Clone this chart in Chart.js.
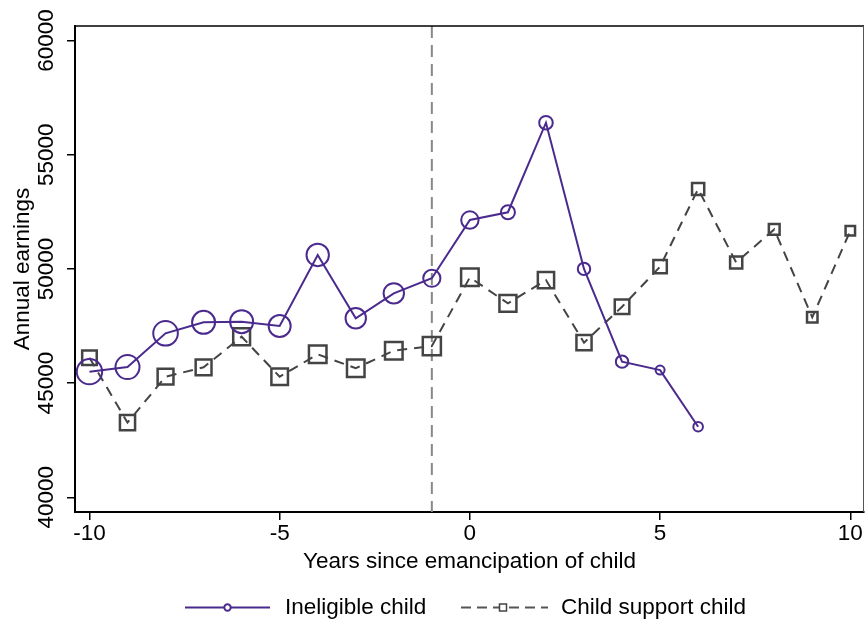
<!DOCTYPE html>
<html>
<head>
<meta charset="utf-8">
<script src="https://cdn.jsdelivr.net/npm/chart.js@4"></script>
<style>
  html, body { margin: 0; padding: 0; background: #fff; }
</style>
</head>
<body>
<canvas id="myChart" width="865" height="619"></canvas>
<script>
/* datos */
const years = [-10, -9, -8, -7, -6, -5, -4, -3, -2, -1, 0, 1, 2, 3, 4, 5, 6, 7, 8, 9, 10];
const ineligible = [45500, 45700, 47180, 47660, 47690, 47500, 50610, 47840, 48930, 49590,
  52140, 52480, 56400, 50000, 45940, 45570, 43090];
const childSupport = [46110, 43270, 45280, 45690, 47030, 45280, 46260, 45650, 46420, 46620,
  49630, 48490, 49510, 46770, 48340, 50100, 53500, 50280, 51730, 47880, 51670];
const xTicks = [-10, -5, 0, 5, 10];
const yTicks = [40000, 45000, 50000, 55000, 60000];
const eventYear = -1;

/* tamanos de los marcadores (peso de cada punto) */
const circleRadius = [12.7, 12, 12.3, 11.5, 11.5, 11, 11.2, 10.2, 10.2, 8.6, 8.7, 7, 6.8, 6.2, 6.2, 4.5, 4.8];
const squareRadius = [10.3, 10.7, 11.2, 11.2, 11.9, 11.7, 12.4, 12.4, 12.4, 12.8, 12.4, 12, 11.5,
  10.7, 10.3, 9.5, 8.6, 8.6, 7.6, 7.4, 6.7];

const PURPLE = "#4b2a8e";
const GRAY = "#444444";
const FONT = { family: "'Liberation Sans', Arial, sans-serif", size: 22.5 };

const toPoints = (vals) => vals.map((v, i) => ({ x: years[i], y: v }));

/* linea vertical, marco, etiquetas de los ejes y leyenda */
const extras = {
  id: "extras",
  beforeDatasetsDraw(chart) {
    const { ctx, chartArea, scales } = chart;
    const x = scales.x.getPixelForValue(eventYear);
    ctx.save();
    ctx.strokeStyle = "#888";
    ctx.lineWidth = 2;
    ctx.setLineDash([12, 7]);
    ctx.beginPath();
    ctx.moveTo(x, chartArea.top);
    ctx.lineTo(x, chartArea.bottom);
    ctx.stroke();
    ctx.restore();
  },
  afterDraw(chart) {
    const { ctx, chartArea, scales } = chart;
    ctx.save();
    // marco superior y derecho
    ctx.strokeStyle = "#000";
    ctx.lineWidth = 1.5;
    ctx.beginPath();
    ctx.moveTo(chartArea.left, chartArea.top);
    ctx.lineTo(chartArea.right, chartArea.top);
    ctx.stroke();
    ctx.strokeStyle = "#555";
    ctx.lineWidth = 1;
    ctx.beginPath();
    ctx.moveTo(chartArea.right - 0.5, chartArea.top);
    ctx.lineTo(chartArea.right - 0.5, chartArea.bottom);
    ctx.stroke();

    ctx.fillStyle = "#000";
    ctx.font = FONT.size + "px " + FONT.family;
    ctx.textAlign = "center";
    ctx.textBaseline = "middle";
    // etiquetas del eje x
    xTicks.forEach((v) => {
      ctx.fillText(String(v), scales.x.getPixelForValue(v), 534);
    });
    // etiquetas verticales del eje y
    yTicks.forEach((v) => {
      const py = scales.y.getPixelForValue(v);
      ctx.save();
      ctx.translate(46.5, py);
      ctx.rotate(-Math.PI / 2);
      ctx.fillText(String(v), 0, 0);
      ctx.restore();
    });

    // leyenda
    const ly = 607.5;
    ctx.lineWidth = 2;
    ctx.strokeStyle = PURPLE;
    ctx.beginPath();
    ctx.moveTo(185, ly);
    ctx.lineTo(270, ly);
    ctx.stroke();
    ctx.fillStyle = "#fff";
    ctx.beginPath();
    ctx.arc(227.5, ly, 3.2, 0, Math.PI * 2);
    ctx.fill();
    ctx.stroke();

    ctx.strokeStyle = "#555";
    ctx.setLineDash([10, 6]);
    ctx.beginPath();
    ctx.moveTo(461, ly);
    ctx.lineTo(548, ly);
    ctx.stroke();
    ctx.setLineDash([]);
    ctx.fillStyle = "#fff";
    ctx.fillRect(499.5, ly - 3.5, 7, 7);
    ctx.strokeStyle = GRAY;
    ctx.lineWidth = 1.5;
    ctx.strokeRect(499.5, ly - 3.5, 7, 7);

    ctx.fillStyle = "#000";
    ctx.textAlign = "left";
    ctx.fillText("Ineligible child", 285, ly);
    ctx.fillText("Child support child", 561, ly);
    ctx.restore();
  },
};

const ctx = document.getElementById("myChart");
const chart = new Chart(ctx, {
  type: "line",
  data: {
    datasets: [
      {
        label: "Ineligible child",
        data: toPoints(ineligible),
        borderColor: PURPLE,
        borderWidth: 2,
        pointStyle: "circle",
        pointRadius: circleRadius,
        pointBorderColor: PURPLE,
        pointBackgroundColor: "rgba(0,0,0,0)",
        pointBorderWidth: 2,
        tension: 0,
        fill: false,
      },
      {
        label: "Child support child",
        data: toPoints(childSupport),
        borderColor: "#444",
        borderWidth: 2,
        borderDash: [10, 7],
        pointStyle: "rect",
        pointRadius: squareRadius,
        pointBorderColor: GRAY,
        pointBackgroundColor: "rgba(0,0,0,0)",
        pointBorderWidth: 2.5,
        tension: 0,
        fill: false,
      },
    ],
  },
  options: {
    responsive: false,
    animation: false,
    devicePixelRatio: 1,
    layout: { autoPadding: false, padding: { top: 26, right: 1, left: 0, bottom: 0 } },
    plugins: { legend: { display: false }, tooltip: { enabled: false } },
    scales: {
      x: {
        type: "linear",
        bounds: "data",
        min: -10.38,
        max: 10.36,
        ticks: { display: false },
        afterBuildTicks: (s) => { s.ticks = xTicks.map((v) => ({ value: v })); },
        grid: { drawOnChartArea: false, tickLength: 8, color: "#000", lineWidth: 1.5 },
        border: { color: "#000", width: 2 },
        title: { display: true, text: "Years since emancipation of child", font: FONT, color: "#000",
          padding: { top: 0, bottom: 44 } },
        afterFit: (s) => { s.height = 107; s.paddingLeft = 0; s.paddingRight = 0; },
      },
      y: {
        type: "linear",
        bounds: "data",
        min: 39356,
        max: 60635,
        ticks: { display: false },
        afterBuildTicks: (s) => { s.ticks = yTicks.map((v) => ({ value: v })); },
        grid: { drawOnChartArea: false, tickLength: 8, color: "#000", lineWidth: 1.5 },
        border: { color: "#000", width: 2 },
        title: { display: true, text: "Annual earnings", font: FONT, color: "#000",
          padding: { top: 9, bottom: 0 } },
        afterFit: (s) => { s.width = 75; s.paddingTop = 0; s.paddingBottom = 0; },
      },
    },
  },
  plugins: [extras],
});
</script>
</body>
</html>
